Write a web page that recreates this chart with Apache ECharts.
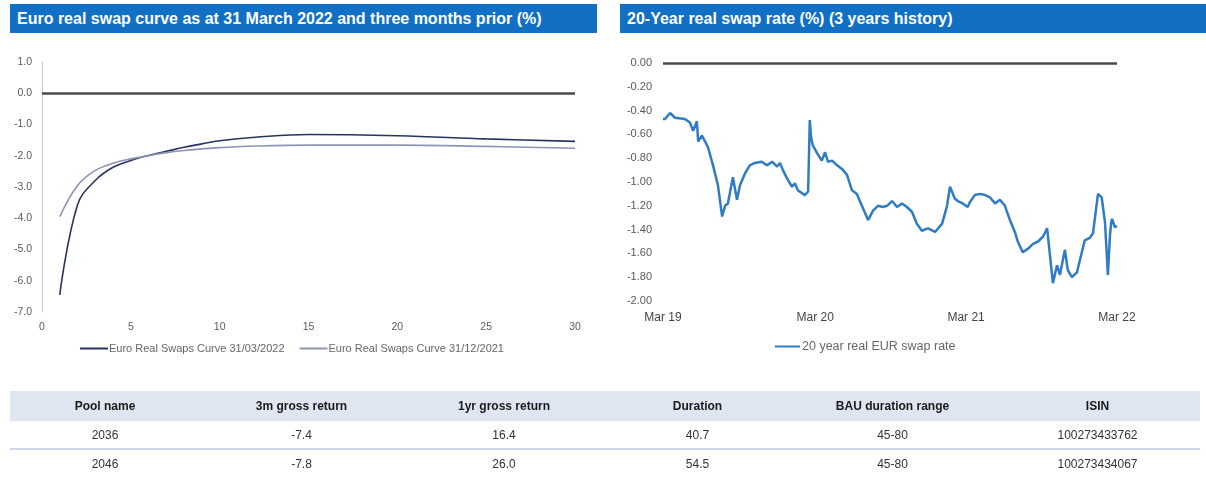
<!DOCTYPE html>
<html>
<head>
<meta charset="utf-8">
<script src="https://cdn.jsdelivr.net/npm/echarts@6/dist/echarts.min.js"></script>
<style>
  html, body { margin: 0; padding: 0; background: #fff; }
  #wrap { position: relative; width: 1206px; height: 477px; overflow: hidden; }
  #chart { position: absolute; left: 0; top: 0; width: 1206px; height: 477px; }
  .bar {
    position: absolute; top: 4px; height: 29px; line-height: 29px;
    background: #1170c4; color: #fff; font-family: "Liberation Sans Narrow", "Liberation Sans", sans-serif;
    font-weight: bold; font-size: 16px; padding-left: 7px; box-sizing: border-box; white-space: nowrap;
  }
  table.pools {
    position: absolute; left: 10px; top: 391px; width: 1190px; border-collapse: collapse;
    font-family: "Liberation Sans Narrow", "Liberation Sans", sans-serif; font-size: 12px; color: #333;
  }
  table.pools th { background: #dfe5f1; height: 30px; font-weight: bold; color: #1a1a1a; padding: 0; }
  table.pools td { height: 27px; text-align: center; padding: 0; }
  table.pools tr.r1 td { border-bottom: 2px solid #cfd8ea; }
</style>
</head>
<body>
<div id="wrap">
  <div id="chart"></div>
  <div class="bar" style="left:10px;width:587px;">Euro real swap curve as at 31 March 2022 and three months prior (%)</div>
  <div class="bar" style="left:620px;width:586px;">20-Year real swap rate (%) (3 years history)</div>
  <table class="pools" id="pools"></table>
</div>
<script>
// curve: tenor (years) vs real swap rate
const tenors = [1, 2, 3, 4, 5, 6, 7, 8, 9, 10, 12, 15, 20, 25, 30];
const curveMar22 = [-6.45, -3.57, -2.79, -2.37, -2.15, -1.99, -1.86, -1.73, -1.62, -1.52, -1.41, -1.32, -1.36, -1.46, -1.54];
const curveDec21 = [-3.95, -2.95, -2.47, -2.24, -2.10, -2.00, -1.90, -1.83, -1.78, -1.74, -1.69, -1.66, -1.66, -1.70, -1.76];
const curveNames = ['Euro Real Swaps Curve 31/03/2022', 'Euro Real Swaps Curve 31/12/2021'];

// 20y real swap rate history
const rateDates = [
  '2019-03-29', '2019-04-03', '2019-04-15', '2019-04-27', '2019-05-21', '2019-06-02', '2019-06-10', '2019-06-19',
  '2019-06-22', '2019-07-01', '2019-07-09', '2019-07-16', '2019-07-28', '2019-08-09', '2019-08-19', '2019-08-26',
  '2019-09-02', '2019-09-14', '2019-09-24', '2019-10-01', '2019-10-13', '2019-10-25', '2019-11-06', '2019-11-23',
  '2019-12-05', '2019-12-18', '2019-12-30', '2020-01-06', '2020-01-13', '2020-01-23', '2020-02-04', '2020-02-11',
  '2020-02-18', '2020-03-06', '2020-03-14', '2020-03-18', '2020-03-21', '2020-03-25', '2020-04-05', '2020-04-16',
  '2020-04-24', '2020-05-01', '2020-05-11', '2020-05-23', '2020-06-04', '2020-06-16', '2020-06-28', '2020-07-10',
  '2020-07-22', '2020-08-06', '2020-08-18', '2020-08-30', '2020-09-11', '2020-09-21', '2020-10-03', '2020-10-15',
  '2020-10-27', '2020-11-08', '2020-11-20', '2020-12-02', '2020-12-14', '2020-12-29', '2021-01-15', '2021-02-01',
  '2021-02-13', '2021-02-20', '2021-03-04', '2021-03-11', '2021-03-23', '2021-04-04', '2021-04-09', '2021-04-21',
  '2021-05-04', '2021-05-16', '2021-05-28', '2021-06-09', '2021-06-21', '2021-07-03', '2021-07-15', '2021-07-27',
  '2021-08-03', '2021-08-15', '2021-08-28', '2021-09-09', '2021-09-21', '2021-10-03', '2021-10-13', '2021-10-20',
  '2021-10-27', '2021-11-06', '2021-11-13', '2021-11-25', '2021-12-02', '2021-12-12', '2021-12-24', '2022-01-05',
  '2022-01-12', '2022-01-24', '2022-02-01', '2022-02-13', '2022-02-22', '2022-03-02', '2022-03-09', '2022-03-14',
  '2022-03-17', '2022-03-19', '2022-03-26', '2022-03-31'
];
const rateValues = [
  -0.47, -0.47, -0.42, -0.46, -0.47, -0.50, -0.57, -0.49,
  -0.66, -0.61, -0.66, -0.71, -0.86, -1.03, -1.29, -1.20,
  -1.18, -0.96, -1.15, -1.03, -0.93, -0.86, -0.84, -0.83,
  -0.86, -0.83, -0.87, -0.84, -0.90, -0.97, -1.04, -1.01,
  -1.07, -1.11, -1.08, -0.48, -0.62, -0.69, -0.76, -0.82,
  -0.75, -0.83, -0.82, -0.86, -0.89, -0.94, -1.07, -1.10,
  -1.20, -1.32, -1.24, -1.20, -1.21, -1.20, -1.16, -1.21,
  -1.18, -1.21, -1.25, -1.35, -1.41, -1.39, -1.42, -1.35,
  -1.20, -1.04, -1.14, -1.16, -1.18, -1.21, -1.17, -1.11,
  -1.10, -1.11, -1.13, -1.18, -1.15, -1.20, -1.32, -1.42,
  -1.50, -1.59, -1.56, -1.52, -1.50, -1.46, -1.39, -1.62,
  -1.85, -1.70, -1.78, -1.57, -1.74, -1.80, -1.76, -1.59,
  -1.49, -1.47, -1.43, -1.10, -1.13, -1.34, -1.78, -1.45,
  -1.34, -1.31, -1.38, -1.37
];
const rateName = '20 year real EUR swap rate';
const rateTicks = ['2019-03-29', '2020-03-31', '2021-03-31', '2022-03-31'];

// table
const poolHeaders = ['Pool name', '3m gross return', '1yr gross return', 'Duration', 'BAU duration range', 'ISIN'];
const poolRows = [
  ['2036', '-7.4', '16.4', '40.7', '45-80', '100273433762'],
  ['2046', '-7.8', '26.0', '54.5', '45-80', '100273434067']
];
const colWidths = [190, 203, 202, 185, 205, 205];

const tbl = document.getElementById('pools');
let html = '<tr>' + poolHeaders.map((h, i) => `<th style="width:${colWidths[i]}px">${h}</th>`).join('') + '</tr>';
poolRows.forEach((r, k) => {
  html += `<tr class="r${k + 1}">` + r.map(c => `<td>${c}</td>`).join('') + '</tr>';
});
tbl.innerHTML = html;

// dates -> days since first observation (value axis, so labels can sit on the March dates)
const DAY = 86400000;
const t0 = Date.parse(rateDates[0]);
const toDay = s => Math.round((Date.parse(s) - t0) / DAY);
const monthNames = ['Jan', 'Feb', 'Mar', 'Apr', 'May', 'Jun', 'Jul', 'Aug', 'Sep', 'Oct', 'Nov', 'Dec'];
const dayLabel = v => {
  const d = new Date(t0 + v * DAY);
  return monthNames[d.getUTCMonth()] + ' ' + String(d.getUTCFullYear()).slice(2);
};

const font = 'Liberation Sans';
const grey = '#5a5a5a';

const chart = echarts.init(document.getElementById('chart'));
chart.setOption({
  backgroundColor: '#fff',
  animation: false,
  grid: [
    { left: 42, top: 62, width: 533, height: 250 },
    { left: 663, top: 63, width: 454, height: 238 }
  ],
  legend: [
    {
      left: 75, top: 338, itemWidth: 28, itemHeight: 2, itemGap: 15, icon: 'rect',
      data: curveNames, textStyle: { color: '#666', fontSize: 11, fontFamily: font, padding: [0, 0, 0, -4] }
    },
    {
      left: 770, top: 335, itemWidth: 25, itemHeight: 2, icon: 'rect',
      data: [rateName], textStyle: { color: '#666', fontSize: 12.5, fontFamily: font, padding: [0, 0, 0, -3] }
    }
  ],
  xAxis: [
    {
      type: 'value', gridIndex: 0, min: 0, max: 30, interval: 5,
      axisLine: { show: false }, axisTick: { show: false }, splitLine: { show: false },
      axisLabel: { margin: 10, color: grey, fontSize: 10.5, fontFamily: font }
    },
    {
      type: 'value', gridIndex: 1, min: 0, max: toDay(rateDates[rateDates.length - 1]),
      axisLine: { show: false }, axisTick: { show: false }, splitLine: { show: false },
      axisLabel: {
        margin: 11, color: '#444', fontSize: 12, fontFamily: font,
        customValues: rateTicks.map(toDay),
        formatter: dayLabel
      }
    }
  ],
  yAxis: [
    {
      type: 'value', gridIndex: 0, min: -7, max: 1, interval: 1,
      axisLine: { show: true, lineStyle: { color: '#c8c8c8', width: 1 } },
      axisTick: { show: false }, splitLine: { show: false },
      axisLabel: { margin: 10, color: grey, fontSize: 10.5, fontFamily: font, formatter: v => v.toFixed(1) }
    },
    {
      type: 'value', gridIndex: 1, min: -2, max: 0, interval: 0.2,
      axisLine: { show: false }, axisTick: { show: false }, splitLine: { show: false },
      axisLabel: { margin: 11, color: grey, fontSize: 11, fontFamily: font, formatter: v => v.toFixed(2) }
    }
  ],
  series: [
    {
      name: curveNames[0], type: 'line', xAxisIndex: 0, yAxisIndex: 0, symbol: 'none', smooth: 0.4,
      color: '#27345f', lineStyle: { width: 1.6 },
      data: tenors.map((t, i) => [t, curveMar22[i]]),
      markLine: {
        silent: true, symbol: 'none', label: { show: false },
        lineStyle: { color: '#4a4a4a', width: 2.5, type: 'solid' },
        data: [{ yAxis: 0 }]
      }
    },
    {
      name: curveNames[1], type: 'line', xAxisIndex: 0, yAxisIndex: 0, symbol: 'none', smooth: 0.4,
      color: '#8d94b4', lineStyle: { width: 1.6 },
      data: tenors.map((t, i) => [t, curveDec21[i]])
    },
    {
      name: rateName, type: 'line', xAxisIndex: 1, yAxisIndex: 1, symbol: 'none',
      color: '#2f7cc5', lineStyle: { width: 2.5 },
      data: rateDates.map((d, i) => [toDay(d), rateValues[i]]),
      markLine: {
        silent: true, symbol: 'none', label: { show: false },
        lineStyle: { color: '#4a4a4a', width: 2.5, type: 'solid' },
        data: [{ yAxis: 0 }]
      }
    }
  ]
});
</script>
</body>
</html>
